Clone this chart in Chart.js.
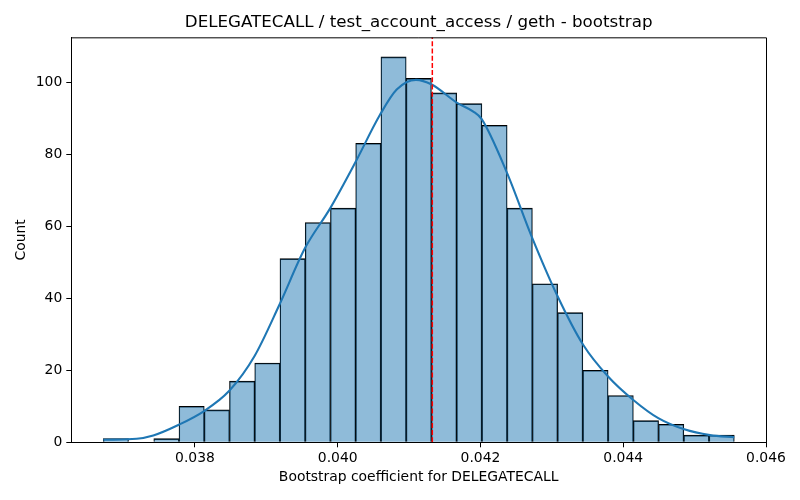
<!DOCTYPE html>
<html><head><meta charset="utf-8">
<script src="https://cdn.jsdelivr.net/npm/chart.js@4.4.1/dist/chart.umd.min.js"></script>
<style>html,body{margin:0;padding:0;background:#fff}</style>
</head><body>
<canvas id="c" width="800" height="500"></canvas>
<script>
const binCenters = [0.0368920, 0.0372456, 0.0375993, 0.0379529, 0.0383065, 0.0386602, 0.0390138, 0.0393674,
  0.0397210, 0.0400747, 0.0404283, 0.0407819, 0.0411356, 0.0414892, 0.0418428, 0.0421965, 0.0425501,
  0.0429037, 0.0432573, 0.0436110, 0.0439646, 0.0443182, 0.0446719, 0.0450255, 0.0453791];
const counts = [1, 0, 1, 10, 9, 17, 22, 51, 61, 65, 83, 107, 101, 97, 94, 88, 65, 44, 36, 20, 13, 6, 5, 2, 2];
const kdeX = [0.0367152, 0.0371832, 0.0374158, 0.0377660, 0.0381219, 0.0384806, 0.0388308, 0.0391811,
  0.0395412, 0.0398956, 0.0402417, 0.0405919, 0.0408259, 0.0410963, 0.0413163, 0.0416666, 0.0418991,
  0.0420168, 0.0423671, 0.0427215, 0.0430718, 0.0434403, 0.0437905, 0.0441408, 0.0444911, 0.0448553,
  0.0452154, 0.0455559];
const kdeY = [0.7, 1.0, 1.9, 4.8, 8.6, 14.3, 23.8, 38.1, 53.9, 65, 77.5, 90.9, 97.9, 100.6, 99.3, 94.3, 91.8,
  89.7, 75, 56.9, 40.9, 27, 18.2, 11.75, 6.7, 3.6, 2.0, 1.4];
const refValue = 0.041325;
const xTicks = [0.038, 0.040, 0.042, 0.044, 0.046];
const yTicks = [0, 20, 40, 60, 80, 100];
const xRange = [0.036267, 0.046];
const yRange = [0, 112.4];

const FONT = 'DejaVu Sans';
const frame = {
  id: 'frame',
  afterDraw(chart) {
    const {ctx, chartArea: a} = chart;
    ctx.save();
    ctx.strokeStyle = '#000';
    ctx.lineWidth = 1;
    ctx.beginPath();
    ctx.moveTo(a.left, a.top + 0.5);
    ctx.lineTo(a.right + 0.5, a.top + 0.5);
    ctx.lineTo(a.right + 0.5, a.bottom);
    ctx.stroke();
    ctx.restore();
  }
};

new Chart(document.getElementById('c'), {
  type: 'bar',
  data: {
    datasets: [
      {
        type: 'line', order: 1,
        data: [{x: refValue, y: yRange[0]}, {x: refValue, y: yRange[1]}],
        borderColor: '#ff0000', borderWidth: 1.5, borderDash: [5, 2.2],
        pointRadius: 0, fill: false
      },
      {
        type: 'line', order: 2,
        data: kdeX.map((x, i) => ({x, y: kdeY[i]})),
        borderColor: '#1f77b4', borderWidth: 2.1, pointRadius: 0, fill: false,
        cubicInterpolationMode: 'monotone'
      },
      {
        type: 'bar', order: 3,
        data: binCenters.map((x, i) => ({x, y: counts[i]})),
        backgroundColor: 'rgba(31,119,180,0.5)',
        borderColor: '#000',
        borderWidth: {top: 1, left: 0.7, right: 0.7, bottom: 0},
        borderSkipped: false,
        barPercentage: 1, categoryPercentage: 1
      }
    ]
  },
  options: {
    responsive: false,
    animation: false,
    devicePixelRatio: 1,
    layout: {padding: {left: 0, right: 34, top: 0, bottom: 0}},
    plugins: {
      legend: {display: false},
      tooltip: {enabled: false},
      title: {
        display: true,
        fullSize: false,
        text: 'DELEGATECALL / test_account_access / geth - bootstrap',
        color: '#000',
        font: {family: FONT, size: 16.7, weight: 'normal'},
        padding: {top: 13, bottom: 4.3}
      }
    },
    scales: {
      x: {
        type: 'linear',
        offset: false,
        min: xRange[0], max: xRange[1],
        afterBuildTicks: s => { s.ticks = xTicks.map(v => ({value: v})); },
        afterFit: s => { s.height = 57.7; },
        ticks: {
          color: '#000', font: {family: FONT, size: 13.9}, padding: 3,
          maxRotation: 0, autoSkip: false,
          callback: v => Number(v).toFixed(3)
        },
        grid: {display: true, offset: false, drawOnChartArea: false, drawTicks: true, tickLength: 5, color: '#000', lineWidth: 1},
        border: {display: true, color: '#000', width: 1},
        title: {
          display: true, text: 'Bootstrap coefficient for DELEGATECALL', color: '#000',
          font: {family: FONT, size: 13.9}, padding: {top: 0, bottom: 14.7}
        }
      },
      y: {
        type: 'linear',
        min: yRange[0], max: yRange[1],
        afterBuildTicks: s => { s.ticks = yTicks.map(v => ({value: v})); },
        afterFit: s => { s.width = 71.3; },
        ticks: {color: '#000', font: {family: FONT, size: 13.9}, padding: 4},
        grid: {display: true, drawOnChartArea: false, drawTicks: true, tickLength: 5, color: '#000', lineWidth: 1},
        border: {display: true, color: '#000', width: 1},
        title: {
          display: true, text: 'Count', color: '#000',
          font: {family: FONT, size: 13.9}, padding: {top: 13.2, bottom: 0}
        }
      }
    }
  },
  plugins: [frame]
});
</script>
</body></html>
